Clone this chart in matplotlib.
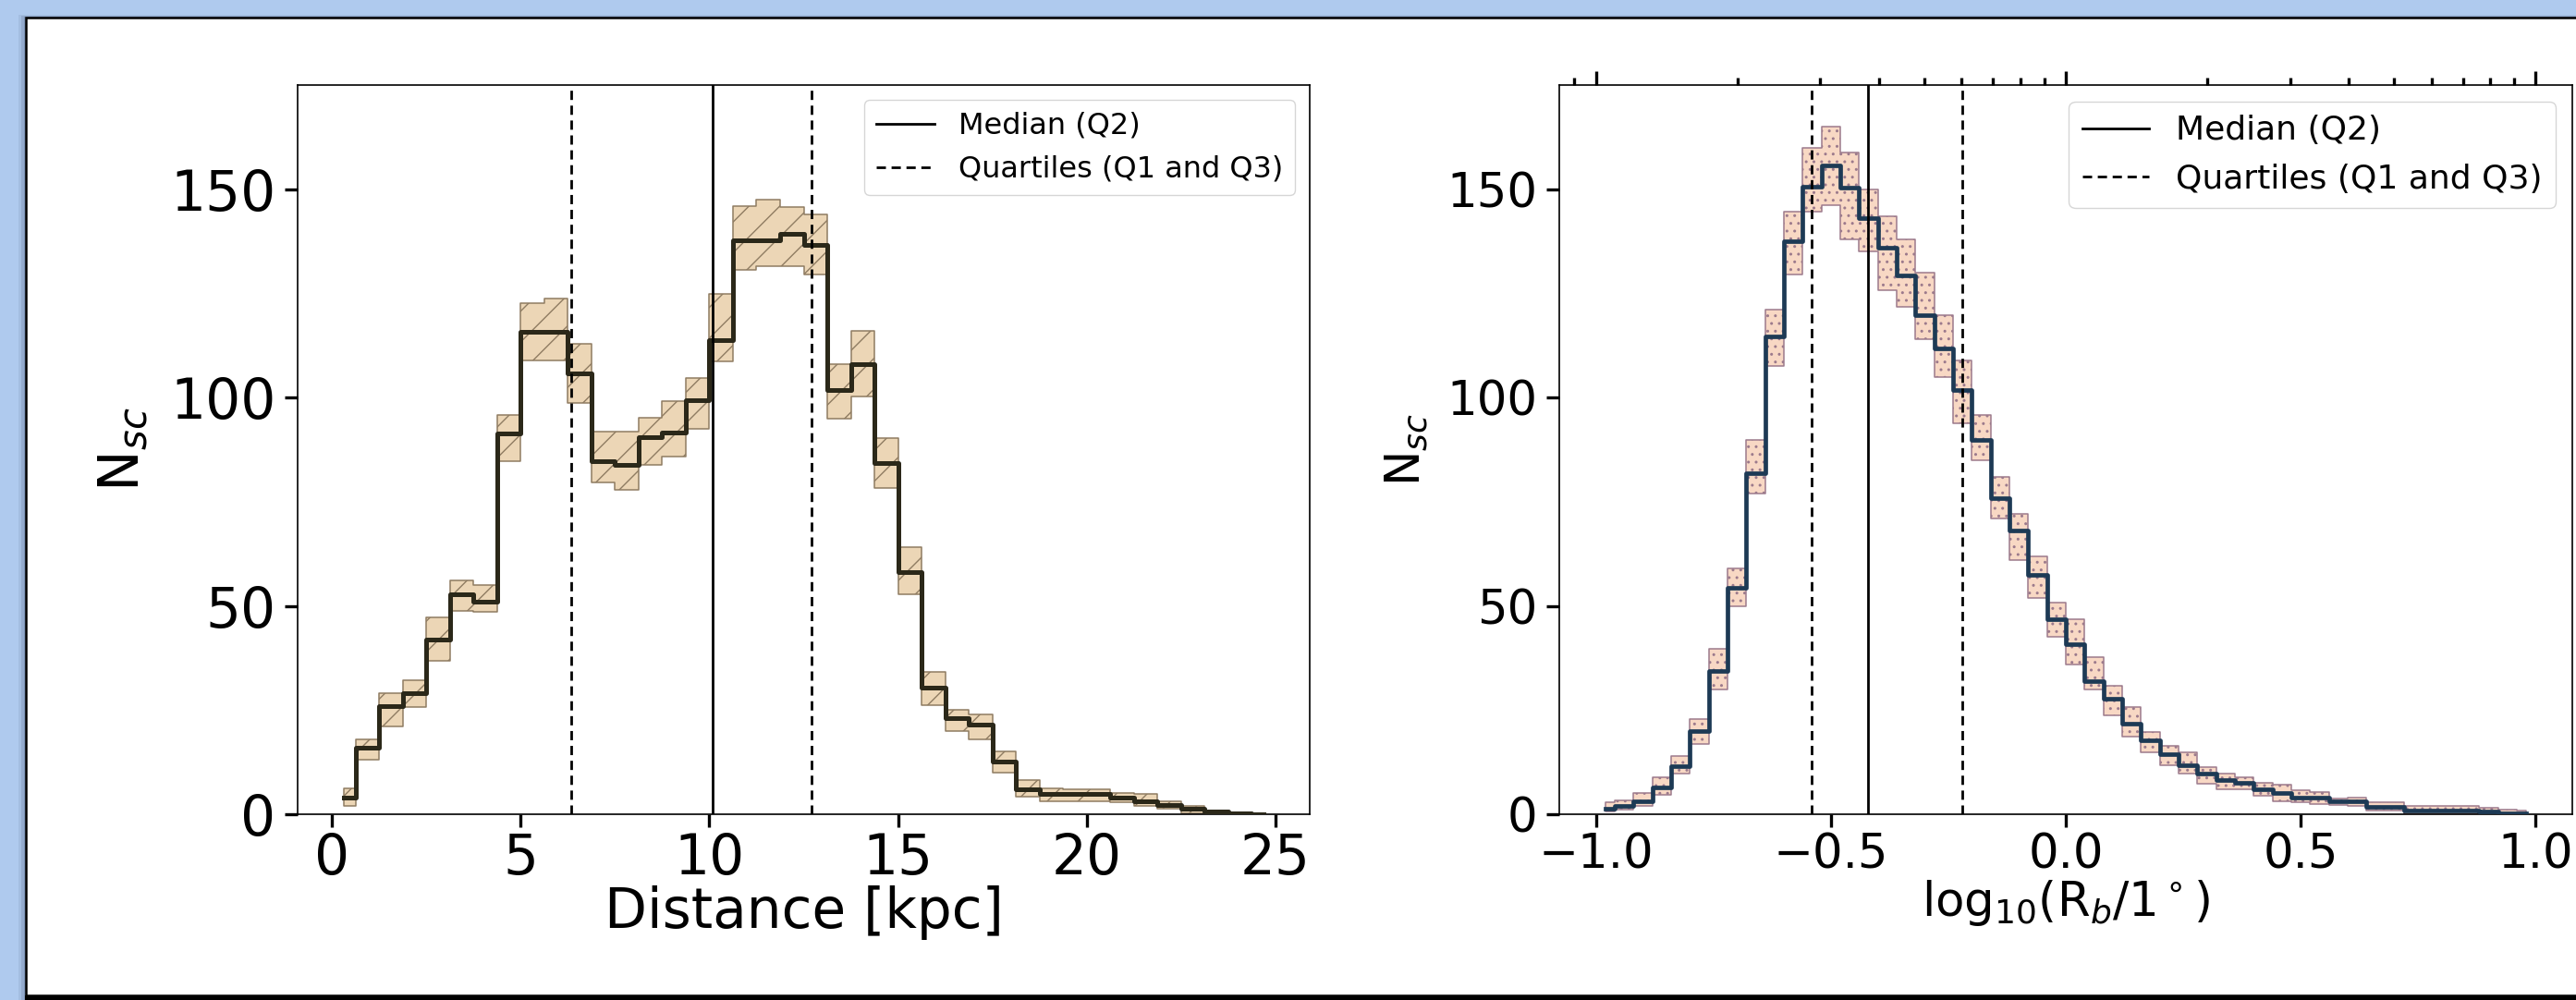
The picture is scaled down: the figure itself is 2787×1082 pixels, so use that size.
import numpy as np
import matplotlib
matplotlib.use("Agg")
import matplotlib.pyplot as plt
from matplotlib.patches import Rectangle
from matplotlib.lines import Line2D

# ---------------- data ----------------
# Left panel: distance histogram, 40 bins over 0-25 kpc
dist_range = (0.0, 25.0)
dist_nbins = 40
dist_median = [4.1, 15.9, 26.0, 29.1, 41.9, 52.8, 51.0, 91.3, 115.8, 115.8,
               105.9, 84.7, 83.9, 90.4, 91.5, 99.3, 113.7, 137.8, 137.8, 139.4,
               136.6, 101.9, 108.0, 84.2, 58.2, 30.3, 23.1, 21.5, 12.6, 6.0,
               4.9, 4.9, 4.9, 4.0, 3.2, 2.3, 1.3, 0.6, 0.2, 0.1]
dist_lower = [2.1, 13.0, 21.0, 25.8, 36.9, 48.9, 48.6, 84.7, 108.9, 108.9,
              98.7, 79.7, 77.8, 83.9, 85.8, 92.6, 108.7, 130.7, 131.5, 131.5,
              129.5, 94.9, 100.3, 78.2, 52.8, 26.2, 19.9, 18.0, 10.0, 4.3,
              3.2, 3.2, 3.2, 2.8, 2.1, 1.3, 0.3, 0.1, 0.0, 0.0]
dist_upper = [6.1, 18.0, 29.0, 32.2, 47.2, 56.1, 54.9, 95.8, 122.7, 123.7,
              112.9, 91.8, 91.8, 95.1, 99.2, 104.8, 124.8, 146.0, 147.6, 145.7,
              144.0, 108.0, 116.0, 90.2, 64.2, 34.2, 25.1, 24.0, 15.1, 8.1,
              6.3, 6.0, 6.0, 5.1, 4.9, 3.2, 2.1, 0.9, 0.5, 0.2]
dist_quartiles = [6.35, 12.7]
dist_q2 = 10.1

# Right panel: log10(R_b / 1 deg) histogram, 50 bins over -1..1
rb_range = (-1.0, 1.0)
rb_nbins = 50
rb_median = [1.3, 1.9, 3.2, 6.4, 11.5, 20.0, 34.4, 54.4, 81.8, 114.6,
             137.6, 150.6, 155.7, 150.3, 143.0, 136.0, 129.2, 119.8, 111.8, 101.8,
             89.9, 75.8, 68.1, 57.4, 46.8, 40.8, 31.9, 27.7, 21.7, 17.7,
             14.5, 11.7, 9.8, 8.2, 7.5, 6.0, 5.0, 4.1, 4.1, 3.2,
             3.2, 1.8, 1.8, 0.9, 0.9, 0.9, 0.9, 0.6, 0.3, 0.3]
rb_lower = [0.6, 1.1, 1.9, 4.7, 9.8, 16.8, 30.0, 50.0, 77.0, 107.6,
            129.6, 144.7, 146.2, 137.9, 135.0, 125.8, 121.7, 113.9, 105.0, 93.9,
            85.0, 71.0, 61.1, 51.9, 42.6, 35.9, 30.0, 23.8, 18.7, 14.9,
            11.7, 9.8, 7.3, 6.0, 6.0, 4.5, 3.2, 2.8, 2.4, 2.2,
            2.0, 0.9, 0.9, 0.0, 0.0, 0.0, 0.0, 0.0, 0.0, 0.0]
rb_upper = [2.8, 3.4, 5.0, 8.8, 13.9, 22.8, 39.8, 58.9, 89.9, 121.0,
            144.7, 160.0, 165.0, 158.9, 150.0, 143.6, 137.9, 129.9, 119.8, 109.0,
            95.8, 80.9, 72.0, 61.8, 50.9, 46.8, 37.6, 30.8, 25.7, 19.8,
            16.4, 14.9, 11.3, 9.8, 8.8, 7.5, 7.0, 5.7, 5.4, 3.7,
            3.9, 2.8, 2.8, 1.9, 1.9, 1.9, 1.9, 1.5, 1.0, 0.8]
rb_quartiles = [-0.54, -0.22]
rb_q2 = -0.42

yticks = [0, 50, 100, 150]
legend_labels = ["Median (Q2)", "Quartiles (Q1 and Q3)"]


def centers(rng, n):
    edges = np.linspace(rng[0], rng[1], n + 1)
    return 0.5 * (edges[:-1] + edges[1:])


# ---------------- figure ----------------
W, H = 2787, 1082
BLUE = "#AFCAEE"
fig = plt.figure(figsize=(W / 100, H / 100), dpi=100, facecolor=BLUE)

# slide-like white panel with shadow and border (behind the axes)
for i, a in enumerate([0.10, 0.18, 0.28]):
    fig.patches.append(Rectangle(((20 + 3 * i) / W, 0), 1, 1 - (16 + i) / H,
                                 transform=fig.transFigure, facecolor="#4a5a78",
                                 alpha=a, edgecolor="none", zorder=-5))
fig.patches.append(Rectangle((28 / W, 5 / H), 1, 1 - 24 / H,
                             transform=fig.transFigure, facecolor="white",
                             edgecolor="black", linewidth=1.8, zorder=-4))
fig.patches.append(Rectangle((27 / W, 0), 1, 5 / H, transform=fig.transFigure,
                             facecolor="black", edgecolor="none", zorder=-3))

ax1 = fig.add_axes([322 / W, 1 - 881 / H, 1095 / W, 789 / H])
ax2 = fig.add_axes([1687 / W, 1 - 881 / H, 1096 / W, 789 / H])

dash = (3.6, 2.2)
VLW = 2.0

# ---- left panel ----
xc = centers(dist_range, dist_nbins)
with plt.rc_context({"hatch.color": "#8f7c62", "hatch.linewidth": 1.0}):
    ax1.fill_between(xc, dist_lower, dist_upper, step="mid",
                     facecolor="#ECD6B6", edgecolor="#8f7c62",
                     linewidth=1.1, hatch="/", zorder=1)
ax1.step(xc, dist_median, where="mid", color="#2b2819", lw=3.6, zorder=3)
ax1.axvline(dist_q2, color="black", lw=VLW, zorder=4)
for q in dist_quartiles:
    ax1.axvline(q, color="black", lw=VLW, ls="--", dashes=dash, zorder=4)
span1 = xc[-1] - xc[0]
ax1.set_xlim(xc[0] - 0.05 * span1, xc[-1] + 0.05 * span1)
ax1.set_ylim(0, 175)
ax1.set_yticks(yticks)
ax1.set_xticks([0, 5, 10, 15, 20, 25])
ax1.tick_params(axis="both", direction="out", length=10, width=2.4,
                labelsize=43)
ax1.tick_params(axis="x", pad=4)
ax1.tick_params(axis="y", pad=7)
for s in ax1.spines.values():
    s.set_linewidth(1.2)
ax1.set_xlabel("Distance [kpc]", fontsize=43)
ax1.xaxis.set_label_coords(0.5, -0.098)
ax1.set_ylabel(r"N$_{sc}$", fontsize=43)
ax1.yaxis.set_label_coords(-0.145, 0.5)
ax1.legend([Line2D([], [], color="black", lw=VLW),
            Line2D([], [], color="black", lw=VLW, ls="--", dashes=dash)],
           legend_labels, loc="upper right", fontsize=23)

# ---- right panel ----
rc = centers(rb_range, rb_nbins)
with plt.rc_context({"hatch.color": "#6e5a78", "hatch.linewidth": 1.0}):
    ax2.fill_between(rc, rb_lower, rb_upper, step="mid",
                     facecolor="#F8D8C4", edgecolor="#9c7a8c",
                     linewidth=1.1, hatch="..", zorder=1)
ax2.step(rc, rb_median, where="mid", color="#1d3a55", lw=3.4, zorder=3)
ax2.axvline(rb_q2, color="black", lw=VLW, zorder=4)
for q in rb_quartiles:
    ax2.axvline(q, color="black", lw=VLW, ls="--", dashes=dash, zorder=4)
span2 = rc[-1] - rc[0]
ax2.set_xlim(rc[0] - 0.05 * span2, rc[-1] + 0.05 * span2)
ax2.set_ylim(0, 175)
ax2.set_yticks(yticks)
ax2.set_xticks([-1.0, -0.5, 0.0, 0.5, 1.0])
ax2.tick_params(axis="both", direction="out", length=10, width=2.4,
                labelsize=37)
ax2.tick_params(axis="x", pad=4)
ax2.tick_params(axis="y", pad=7)
for s in ax2.spines.values():
    s.set_linewidth(1.2)
ax2.set_xlabel(r"log$_{10}$(R$_b$/1$^\circ$)", fontsize=37)
ax2.xaxis.set_label_coords(0.5, -0.088)
ax2.set_ylabel(r"N$_{sc}$", fontsize=37)
ax2.yaxis.set_label_coords(-0.128, 0.5)
ax2.legend([Line2D([], [], color="black", lw=VLW),
            Line2D([], [], color="black", lw=VLW, ls="--", dashes=dash)],
           legend_labels, loc="upper right", fontsize=26)

# top log axis in degrees (ticks only)
top = ax2.twiny()
top.set_xscale("log")
lo, hi = ax2.get_xlim()
top.set_xlim(10 ** lo, 10 ** hi)
top.tick_params(axis="x", which="both", labeltop=False, direction="out", width=2.4)
top.tick_params(axis="x", which="major", length=11)
top.tick_params(axis="x", which="minor", length=5.5)
top.patch.set_visible(False)
for s in top.spines.values():
    s.set_visible(False)

fig.savefig("out.png", dpi=100, facecolor=BLUE)
